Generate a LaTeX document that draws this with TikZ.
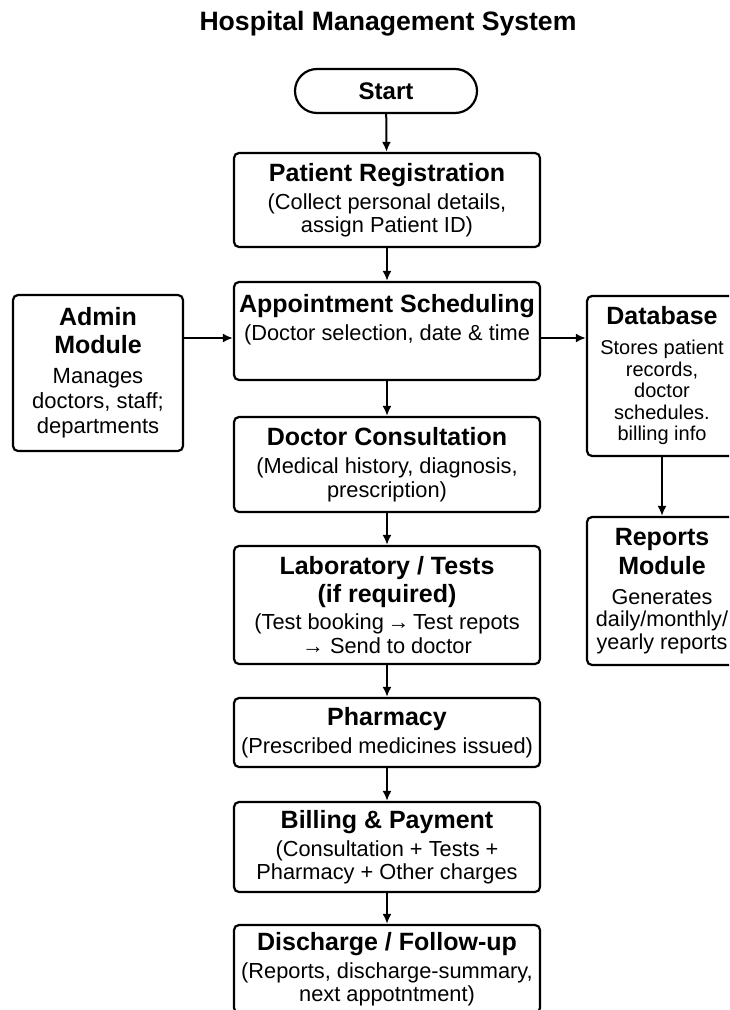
\documentclass[tikz,border=0pt]{standalone}
\usepackage{fontspec}
\setmainfont{Liberation Sans}
\usetikzlibrary{arrows.meta}
\newcommand\boxhead[1]{{\fontsize{12.5}{14}\selectfont\bfseries #1}}
\begin{document}
\begin{tikzpicture}[x=0.5pt,y=-0.5pt,line width=1pt,
  >={Latex[length=5pt,width=4.5pt]},
  flowbox/.style={draw, rectangle, rounded corners=2.5pt, line width=1.1pt, align=center, minimum width=153pt, inner xsep=1pt, inner ysep=2pt, font=\fontsize{10.9}{11.75}\selectfont},
  sidebox/.style={draw, rectangle, rounded corners=2.5pt, line width=1.1pt, align=center, inner xsep=1pt, inner ysep=2pt}]
\useasboundingbox (0,0) rectangle (729,1010);
\fill[white] (0,0) rectangle (729,1010);
\clip (0,0) rectangle (729,1010);
\node[anchor=base, font=\fontsize{13.3}{16}\selectfont\bfseries] (title) at (388,31) {Hospital Management System};
\node[draw, rectangle, rounded corners=11pt, line width=1.1pt, minimum width=91pt, minimum height=22pt, font=\fontsize{12}{14}\selectfont\bfseries] (start) at (386,91) {Start};
\node[flowbox, minimum height=47pt] (reg) at (387,200) {\boxhead{Patient Registration}\\[2.25pt](Collect personal details,\\assign Patient ID)};
\node[flowbox, minimum height=49pt] (appt) at (387,331) {\boxhead{Appointment Scheduling}\\[2.25pt](Doctor selection, date \& time\\[2.25pt]~};
\node[flowbox, minimum height=47.5pt] (consult) at (387,464.5) {\boxhead{Doctor Consultation}\\[2.25pt](Medical history, diagnosis,\\prescription)};
\node[flowbox, minimum height=59pt] (lab) at (387,605) {\boxhead{Laboratory / Tests}\\[2.25pt]\boxhead{(if required)}\\[2pt](Test booking\,→\,Test repots\\→ Send to doctor};
\node[flowbox, minimum height=34.5pt] (pharm) at (387,732.5) {\boxhead{Pharmacy}\\[2.25pt](Prescribed medicines issued)};
\node[flowbox, minimum height=45pt] (bill) at (387,847) {\boxhead{Billing \& Payment}\\[2.25pt](Consultation + Tests +\\Pharmacy + Other charges};
\node[flowbox, minimum height=44pt] (disch) at (387,969) {\boxhead{Discharge / Follow-up}\\[2.25pt](Reports, discharge-summary,\\next appotntment)};
\node[sidebox, minimum width=85pt, minimum height=78pt, font=\fontsize{11}{12.5}\selectfont] (admin) at (98,373) {\boxhead{Admin}\\[1.5pt]\boxhead{Module}\\[2.5pt]Manages\\doctors, staff;\\departments};
\node[sidebox, minimum width=75pt, minimum height=80pt, font=\fontsize{10}{10.75}\selectfont] (db) at (662,376) {\boxhead{Database}\\[4.25pt]Stores patient\\records,\\doctor\\schedules.\\billing info};
\node[sidebox, minimum width=75pt, minimum height=74pt, font=\fontsize{10.8}{11.25}\selectfont] (reports) at (662,591) {\boxhead{Reports}\\[1.75pt]\boxhead{Module}\\[3.75pt]Generates\\daily/monthly/\\yearly reports};
\coordinate (lvl) at (387,338);
\draw[->] (start) -- (reg);
\draw[->] (reg) -- (appt);
\draw[->] (appt) -- (consult);
\draw[->] (consult) -- (lab);
\draw[->] (lab) -- (pharm);
\draw[->] (pharm) -- (bill);
\draw[->] (bill) -- (disch);
\draw[->] (admin.east |- lvl) -- (appt.west |- lvl);
\draw[->] (appt.east |- lvl) -- (db.west |- lvl);
\draw[->] (db) -- (reports);
\end{tikzpicture}
\end{document}
